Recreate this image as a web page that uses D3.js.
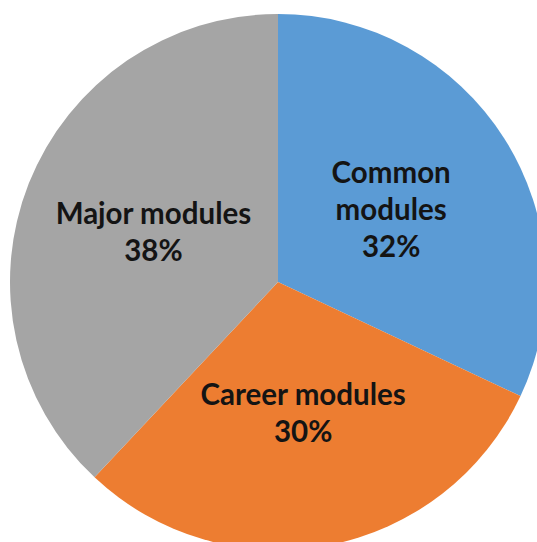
<!DOCTYPE html>
<html>
<head>
<meta charset="utf-8">
<script src="https://cdn.jsdelivr.net/npm/d3@7"></script>
<style>
  body { margin: 0; background: #fff; overflow: hidden; }
  svg { display: block; }
</style>
</head>
<body>
<svg width="537" height="542"></svg>
<script>
var width = 537;
var height = 542;

var categories = ['Common modules', 'Career modules', 'Major modules'];
var values = [32, 30, 38];
var labelLines = [['Common', 'modules', '32%'], ['Career modules', '30%'], ['Major modules', '38%']];
var colors = ['#5B9BD5', '#ED7D31', '#A5A5A5'];

var cx = 278, cy = 282, radius = 268;

var data = categories.map(function(c, i) {
  return { name: c, value: values[i], lines: labelLines[i], color: colors[i] };
});

var pie = d3.pie().sort(null).value(function(d) { return d.value; });
var arc = d3.arc().innerRadius(0).outerRadius(radius);

var g = d3.select('svg').append('g')
  .attr('transform', 'translate(' + cx + ',' + cy + ')');

var slices = g.selectAll('g.slice')
  .data(pie(data))
  .enter()
  .append('g')
  .attr('class', 'slice');

slices.append('path')
  .attr('d', arc)
  .style('fill', function(d) { return d.data.color; });

var lineH = 37;
slices.append('text')
  .attr('transform', function(d) {
    var c = arc.centroid(d);
    return 'translate(' + c[0] + ',' + c[1] + ')';
  })
  .style('font-family', 'Lato, "Open Sans", sans-serif')
  .style('font-weight', 'bold')
  .style('font-size', '29.5px')
  .style('fill', '#141414')
  .attr('text-anchor', 'middle')
  .each(function(d) {
    var n = d.data.lines.length;
    var t = d3.select(this);
    d.data.lines.forEach(function(line, i) {
      t.append('tspan')
        .attr('x', 0)
        .attr('y', (i - (n - 1) / 2) * lineH + 10)
        .text(line);
    });
  });
</script>
</body>
</html>
